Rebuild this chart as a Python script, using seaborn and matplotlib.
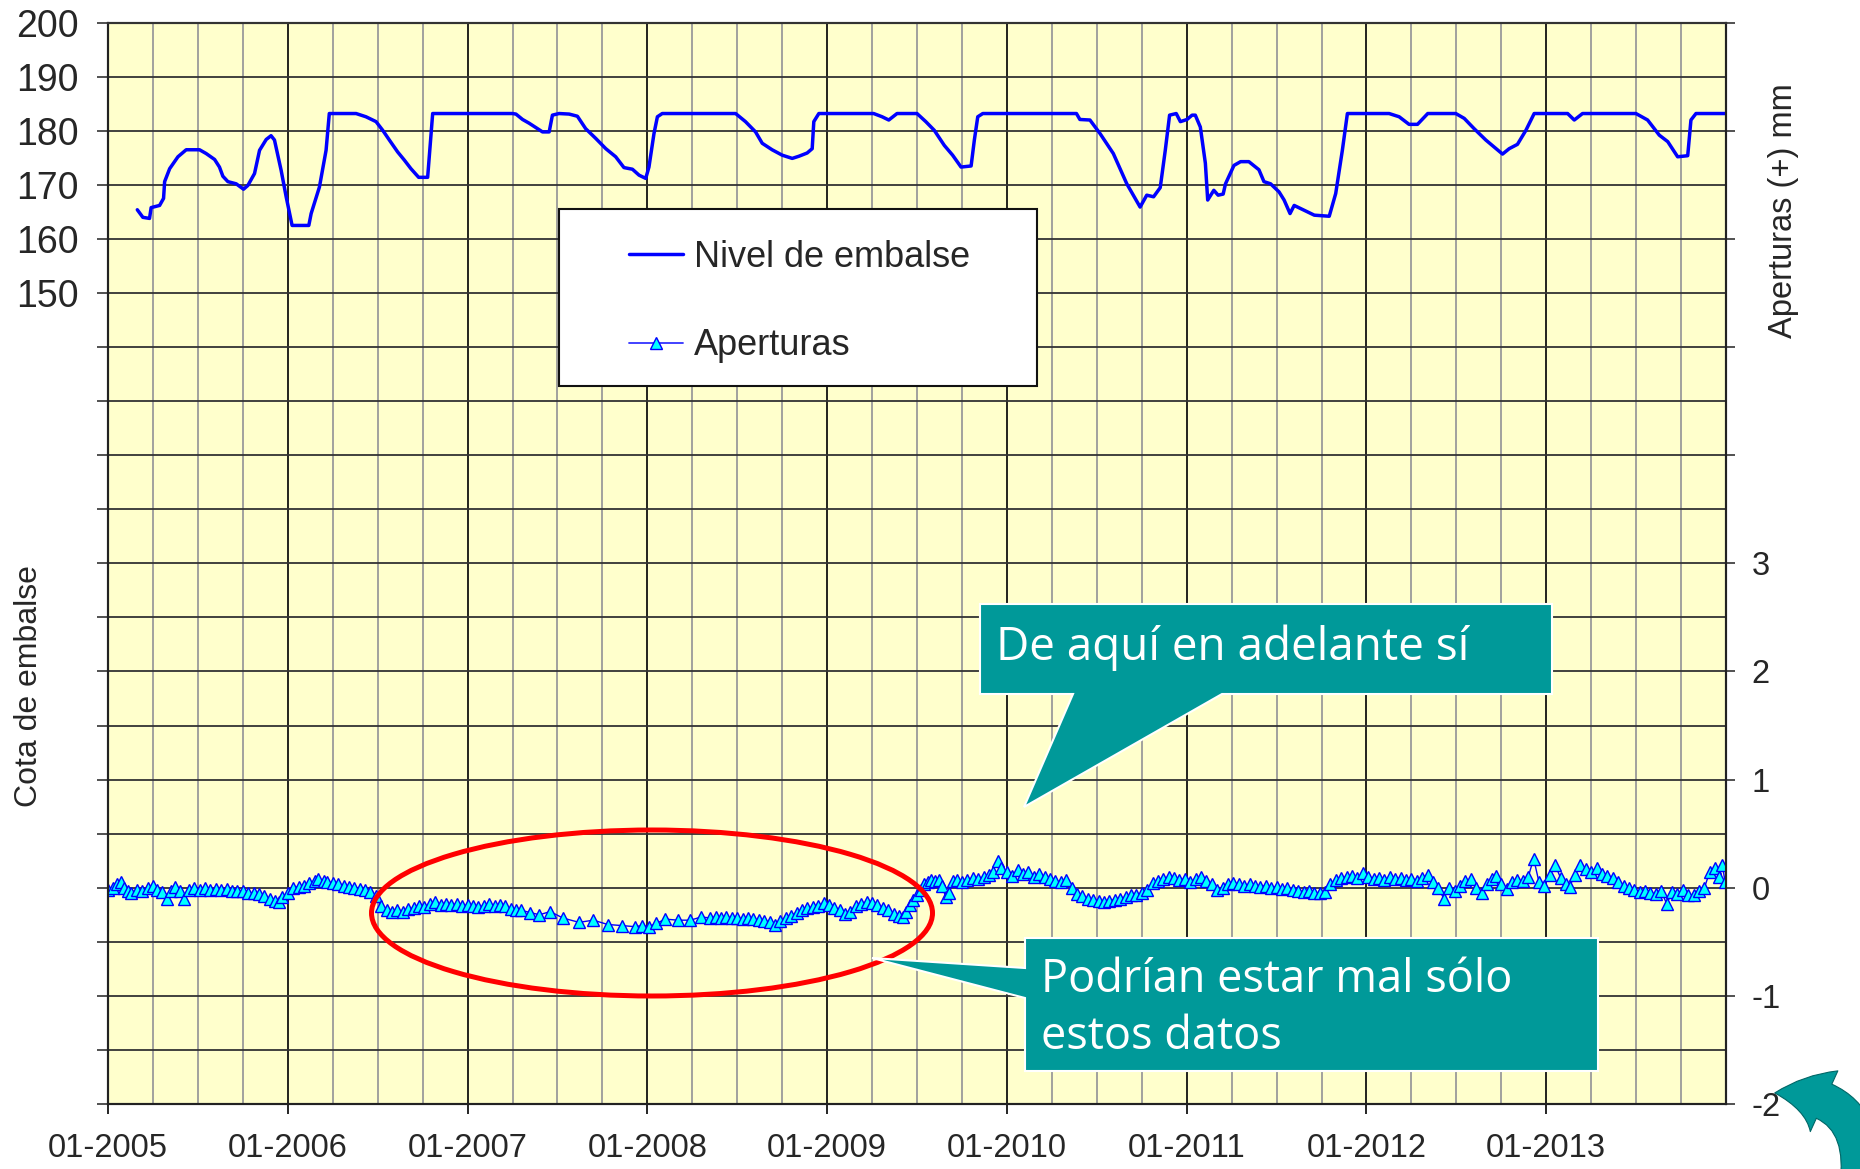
import matplotlib
matplotlib.use("Agg")
import matplotlib.pyplot as plt
import seaborn as sns
from matplotlib.patches import Rectangle, Ellipse, Polygon, FancyArrowPatch
from matplotlib.lines import Line2D
from matplotlib.ticker import FixedLocator, FixedFormatter

# ---------------- data ----------------
nivel_year = [2005.163, 2005.194, 2005.231, 2005.240, 2005.287, 2005.309, 2005.315, 2005.343, 2005.389,
              2005.435, 2005.509, 2005.546, 2005.593, 2005.620, 2005.639, 2005.667, 2005.713, 2005.754,
              2005.778, 2005.815, 2005.843, 2005.880, 2005.907, 2005.926, 2005.963, 2005.991, 2006.024,
              2006.117, 2006.130, 2006.176, 2006.213, 2006.231, 2006.380, 2006.435, 2006.491, 2006.528,
              2006.565, 2006.611, 2006.648, 2006.685, 2006.728, 2006.778, 2006.787, 2006.806,
              2007.250, 2007.269, 2007.306, 2007.343, 2007.380, 2007.417, 2007.454, 2007.472, 2007.509,
              2007.565, 2007.611, 2007.657, 2007.713, 2007.769, 2007.824, 2007.870, 2007.917, 2007.954,
              2007.991, 2008.009, 2008.037, 2008.056, 2008.083, 2008.491, 2008.546, 2008.602, 2008.639,
              2008.694, 2008.750, 2008.806, 2008.843, 2008.889, 2008.917, 2008.926, 2008.954, 2009.259,
              2009.306, 2009.343, 2009.389, 2009.500, 2009.549, 2009.596, 2009.652, 2009.698, 2009.745,
              2009.801, 2009.819, 2009.838, 2009.866, 2010.387, 2010.406, 2010.462, 2010.518, 2010.592,
              2010.667, 2010.741, 2010.778, 2010.816, 2010.853, 2010.881, 2010.905, 2010.942, 2010.965,
              2011.002, 2011.030, 2011.048, 2011.076, 2011.104, 2011.117, 2011.151, 2011.175, 2011.203,
              2011.216, 2011.263, 2011.300, 2011.346, 2011.402, 2011.430, 2011.467, 2011.514, 2011.542,
              2011.575, 2011.598, 2011.654, 2011.710, 2011.793, 2011.829, 2011.866, 2011.894, 2012.126,
              2012.182, 2012.237, 2012.284, 2012.341, 2012.497, 2012.544, 2012.599, 2012.664, 2012.757,
              2012.794, 2012.840, 2012.887, 2012.933, 2013.119, 2013.156, 2013.202, 2013.499, 2013.564,
              2013.629, 2013.676, 2013.731, 2013.787, 2013.805, 2013.833, 2013.996]
nivel_value = [165.4, 164.0, 163.8, 165.8, 166.2, 167.5, 170.6, 173.0, 175.2,
               176.5, 176.5, 175.8, 174.7, 173.3, 171.6, 170.6, 170.2, 169.2,
               169.9, 172.1, 176.4, 178.4, 179.1, 178.3, 172.7, 167.8, 162.5,
               162.5, 164.7, 169.6, 176.4, 183.2, 183.2, 182.6, 181.7, 180.1,
               178.3, 176.1, 174.6, 173.0, 171.4, 171.4, 175.2, 183.2,
               183.2, 183.1, 182.1, 181.4, 180.6, 179.8, 179.8, 182.9, 183.2,
               183.1, 182.7, 180.4, 178.6, 176.7, 175.2, 173.2, 172.9, 171.8,
               171.2, 173.3, 179.5, 182.6, 183.2, 183.2, 181.7, 179.8, 177.7,
               176.5, 175.5, 174.9, 175.3, 175.9, 176.7, 181.7, 183.2, 183.2,
               182.6, 182.0, 183.2, 183.2, 181.7, 180.1, 177.3, 175.5, 173.3,
               173.5, 178.3, 182.6, 183.2, 183.2, 182.1, 182.0, 179.5, 175.8,
               170.2, 165.9, 168.1, 167.8, 169.5, 176.4, 182.9, 183.2, 181.7,
               182.1, 182.9, 182.9, 180.7, 174.0, 167.2, 169.0, 168.1, 168.3,
               170.2, 173.6, 174.3, 174.3, 172.8, 170.6, 170.2, 168.7, 167.2,
               164.7, 166.2, 165.3, 164.4, 164.2, 168.4, 176.4, 183.2, 183.2,
               182.6, 181.2, 181.2, 183.2, 183.2, 182.3, 180.4, 178.3, 175.7,
               176.7, 177.5, 180.1, 183.2, 183.2, 182.0, 183.2, 183.2, 182.0,
               179.2, 178.0, 175.2, 175.4, 182.0, 183.2, 183.2]

apert_year = [2005.00, 2005.03, 2005.05, 2005.07, 2005.09, 2005.11, 2005.13, 2005.16, 2005.19, 2005.22,
              2005.25, 2005.27, 2005.30, 2005.33, 2005.35, 2005.37, 2005.40, 2005.42, 2005.45, 2005.48,
              2005.51, 2005.54, 2005.57, 2005.60, 2005.63, 2005.66, 2005.69, 2005.72, 2005.75, 2005.78,
              2005.81, 2005.84, 2005.87, 2005.90, 2005.93, 2005.95, 2005.97, 2006.00, 2006.03, 2006.06,
              2006.09, 2006.12, 2006.15, 2006.17, 2006.20, 2006.22, 2006.25, 2006.28, 2006.31, 2006.34,
              2006.37, 2006.40, 2006.43, 2006.46, 2006.49, 2006.52, 2006.55, 2006.58, 2006.61, 2006.64,
              2006.67, 2006.70, 2006.73, 2006.76, 2006.79, 2006.82, 2006.85, 2006.88, 2006.91, 2006.94,
              2006.97, 2007.00, 2007.03, 2007.06, 2007.09, 2007.12, 2007.15, 2007.18, 2007.21, 2007.24,
              2007.27, 2007.30, 2007.35, 2007.40, 2007.46, 2007.53, 2007.62, 2007.70, 2007.78, 2007.86,
              2007.93, 2007.97, 2008.01, 2008.05, 2008.10, 2008.17, 2008.24, 2008.30, 2008.35, 2008.38,
              2008.41, 2008.44, 2008.47, 2008.50, 2008.53, 2008.56, 2008.59, 2008.62, 2008.65, 2008.68,
              2008.71, 2008.74, 2008.77, 2008.80, 2008.83, 2008.86, 2008.89, 2008.92, 2008.95, 2008.98,
              2009.01, 2009.04, 2009.07, 2009.10, 2009.13, 2009.16, 2009.19, 2009.22, 2009.25, 2009.28,
              2009.31, 2009.34, 2009.37, 2009.40, 2009.42, 2009.44, 2009.46, 2009.48, 2009.50, 2009.52,
              2009.54, 2009.56, 2009.58, 2009.60, 2009.62, 2009.64, 2009.66, 2009.68, 2009.70, 2009.72,
              2009.75, 2009.78, 2009.81, 2009.84, 2009.87, 2009.90, 2009.92, 2009.95, 2009.97, 2010.00,
              2010.03, 2010.06, 2010.09, 2010.12, 2010.15, 2010.18, 2010.21, 2010.24, 2010.27, 2010.30,
              2010.33, 2010.36, 2010.39, 2010.42, 2010.45, 2010.48, 2010.51, 2010.54, 2010.57, 2010.60,
              2010.63, 2010.66, 2010.69, 2010.72, 2010.75, 2010.78, 2010.81, 2010.84, 2010.87, 2010.90,
              2010.93, 2010.96, 2010.99, 2011.02, 2011.05, 2011.08, 2011.11, 2011.14, 2011.17, 2011.20,
              2011.23, 2011.26, 2011.29, 2011.32, 2011.35, 2011.38, 2011.41, 2011.44, 2011.47, 2011.50,
              2011.53, 2011.56, 2011.59, 2011.62, 2011.65, 2011.68, 2011.71, 2011.74, 2011.77, 2011.80,
              2011.83, 2011.86, 2011.89, 2011.92, 2011.95, 2011.98, 2012.01, 2012.04, 2012.07, 2012.10,
              2012.13, 2012.16, 2012.19, 2012.22, 2012.25, 2012.28, 2012.31, 2012.34, 2012.37, 2012.40,
              2012.43, 2012.46, 2012.49, 2012.52, 2012.55, 2012.58, 2012.61, 2012.64, 2012.67, 2012.70,
              2012.72, 2012.75, 2012.78, 2012.81, 2012.84, 2012.87, 2012.90, 2012.93, 2012.96, 2012.99,
              2013.02, 2013.05, 2013.08, 2013.11, 2013.13, 2013.16, 2013.19, 2013.22, 2013.25, 2013.28,
              2013.31, 2013.34, 2013.37, 2013.40, 2013.43, 2013.46, 2013.49, 2013.52, 2013.55, 2013.58,
              2013.61, 2013.64, 2013.67, 2013.70, 2013.73, 2013.76, 2013.79, 2013.82, 2013.85, 2013.88,
              2013.91, 2013.94, 2013.96, 2013.98, 2013.995]
apert_value = [-0.02, 0.00, 0.03, 0.05, 0.00, -0.03, -0.05, -0.02, -0.03, 0.00,
               0.02, -0.02, -0.04, -0.10, -0.03, 0.01, -0.03, -0.10, -0.02, 0.00,
               -0.02, 0.00, -0.02, -0.01, -0.02, -0.01, -0.03, -0.03, -0.03, -0.05,
               -0.05, -0.06, -0.08, -0.10, -0.12, -0.13, -0.09, -0.05, 0.00, 0.01,
               0.02, 0.04, 0.06, 0.08, 0.06, 0.05, 0.04, 0.03, 0.02, 0.01,
               0.00, -0.01, -0.02, -0.04, -0.08, -0.17, -0.21, -0.22, -0.21, -0.22,
               -0.20, -0.19, -0.17, -0.18, -0.15, -0.13, -0.16, -0.15, -0.16, -0.15,
               -0.17, -0.16, -0.17, -0.18, -0.17, -0.15, -0.17, -0.16, -0.17, -0.20,
               -0.21, -0.21, -0.23, -0.25, -0.22, -0.28, -0.32, -0.30, -0.34, -0.35,
               -0.36, -0.35, -0.36, -0.33, -0.29, -0.30, -0.30, -0.27, -0.28, -0.27,
               -0.28, -0.27, -0.28, -0.28, -0.29, -0.28, -0.29, -0.30, -0.31, -0.32,
               -0.34, -0.31, -0.28, -0.26, -0.23, -0.21, -0.19, -0.18, -0.17, -0.14,
               -0.16, -0.19, -0.21, -0.24, -0.22, -0.17, -0.15, -0.13, -0.14, -0.16,
               -0.19, -0.21, -0.24, -0.26, -0.27, -0.22, -0.16, -0.11, -0.07, -0.02,
               0.03, 0.05, 0.07, 0.06, 0.07, 0.02, -0.09, -0.05, 0.06, 0.07,
               0.05, 0.07, 0.09, 0.08, 0.10, 0.12, 0.15, 0.25, 0.18, 0.15,
               0.11, 0.16, 0.13, 0.15, 0.10, 0.13, 0.10, 0.08, 0.06, 0.05,
               0.07, 0.00, -0.06, -0.08, -0.10, -0.11, -0.12, -0.13, -0.12, -0.11,
               -0.10, -0.09, -0.07, -0.07, -0.05, -0.02, 0.04, 0.06, 0.08, 0.10,
               0.09, 0.07, 0.08, 0.05, 0.08, 0.10, 0.06, 0.03, -0.02, 0.00,
               0.03, 0.04, 0.03, 0.02, 0.03, 0.02, 0.01, 0.02, 0.00, 0.01,
               -0.01, 0.00, -0.02, -0.03, -0.04, -0.03, -0.05, -0.05, -0.04, 0.03,
               0.07, 0.09, 0.10, 0.11, 0.09, 0.14, 0.10, 0.08, 0.09, 0.07,
               0.10, 0.08, 0.09, 0.07, 0.08, 0.06, 0.09, 0.12, 0.05, 0.00,
               -0.10, 0.00, -0.03, 0.02, 0.06, 0.08, 0.00, -0.05, 0.03, 0.08,
               0.11, 0.03, -0.01, 0.05, 0.07, 0.06, 0.10, 0.27, 0.05, 0.02,
               0.12, 0.21, 0.09, 0.03, 0.01, 0.12, 0.21, 0.17, 0.15, 0.18,
               0.13, 0.11, 0.09, 0.05, 0.02, 0.00, -0.02, -0.04, -0.03, -0.05,
               -0.06, -0.03, -0.15, -0.04, -0.06, -0.02, -0.07, -0.07, -0.03, 0.00,
               0.15, 0.18, 0.10, 0.21, 0.05]

year_ticks = [2005, 2006, 2007, 2008, 2009, 2010, 2011, 2012, 2013]
year_labels = ["01-2005", "01-2006", "01-2007", "01-2008", "01-2009",
               "01-2010", "01-2011", "01-2012", "01-2013"]
left_ticks = list(range(0, 201, 10))
left_labels = ["", "", "", "", "", "", "", "", "", "", "", "", "", "", "",
               "150", "160", "170", "180", "190", "200"]
right_ticks = [-2, -1, 0, 1, 2, 3, 4, 5, 6, 7, 8]
right_labels = ["-2", "-1", "0", "1", "2", "3", "", "", "", "", ""]
series_names = ["Nivel de embalse", "Aperturas"]

# ---------------- figure ----------------
W, H = 1860, 1169
sns.set_style("white")
plt.rcParams['font.family'] = ['Liberation Sans', 'DejaVu Sans']


def fx(x):
    return x / W


def fy(y):
    return 1 - y / H


fig = plt.figure(figsize=(W / 100, H / 100), dpi=100)
L, R, T, B = 108, 1726, 22.7, 1104
ax = fig.add_axes([fx(L), fy(B), (R - L) / W, (B - T) / H])
ax.set_facecolor("#FFFFCC")
ax2 = ax.twinx()

sns.lineplot(x=nivel_year, y=nivel_value, ax=ax, color="#0000FF", lw=2.5, legend=False)
sns.lineplot(x=apert_year, y=apert_value, ax=ax2, color="#0000FF", lw=1.0, marker="^",
             markersize=9, markerfacecolor="#00FFFF", markeredgecolor="#0000FF",
             markeredgewidth=1.0, legend=False)

ax.set_xlim(2005, 2014)
ax.set_ylim(0, 200)
ax2.set_ylim(-2, 8)

ax.xaxis.set_major_locator(FixedLocator(year_ticks))
ax.xaxis.set_major_formatter(FixedFormatter(year_labels))
ax.xaxis.set_minor_locator(FixedLocator([2005 + q * 0.25 for q in range(37)]))
ax.yaxis.set_major_locator(FixedLocator(left_ticks))
ax.yaxis.set_major_formatter(FixedFormatter(left_labels))
ax2.yaxis.set_major_locator(FixedLocator(right_ticks))
ax2.yaxis.set_major_formatter(FixedFormatter(right_labels))

ax.grid(which="minor", axis="x", color="#9A9A9A", lw=1.3)
ax.grid(which="major", axis="x", color="#111111", lw=1.3)
ax.grid(which="major", axis="y", color="#333333", lw=1.3)
ax.set_axisbelow(True)
ax2.grid(False)

ax.tick_params(axis="x", which="major", direction="out", length=7, width=1.2, color="black",
               labelsize=23.5, pad=14, bottom=True)
ax.tick_params(axis="x", which="minor", length=0)
ax.tick_params(axis="y", direction="out", length=8, width=1.2, color="#333333",
               labelsize=27, pad=13, left=True)
ax2.tick_params(axis="y", direction="out", length=6.5, width=1.2, color="#333333",
                labelsize=23.5, pad=12, right=True)

for a in (ax, ax2):
    for s in a.spines.values():
        s.set_color("#222222")
        s.set_linewidth(1.5)
ax2.spines["top"].set_color("#333333")

ax.set_xlabel("")
ax.set_ylabel("Cota de embalse", fontsize=23, labelpad=0)
ax.yaxis.set_label_coords((44 - L) / (R - L), (B - 686) / (B - T))
ax2.set_ylabel("Aperturas (+) mm", fontsize=23.5, labelpad=0)
ax2.yaxis.set_label_coords((1768 - L) / (R - L), (B - 211) / (B - T))

# legend box
frame = Rectangle((fx(559), fy(386)), (1037 - 559) / W, (386 - 209) / H, transform=fig.transFigure,
                  facecolor="white", edgecolor="#111111", lw=1.5, zorder=4, clip_on=False)
ax2.add_patch(frame)
handles = [Line2D([], [], color="#0000FF", lw=2.5),
           Line2D([], [], color="#3333FF", lw=1.3, marker="^", markersize=8,
                  markerfacecolor="#00FFFF", markeredgecolor="#0000FF")]
leg = ax2.legend(handles, series_names, loc="upper left", bbox_to_anchor=(fx(629), fy(240)),
                 bbox_transform=fig.transFigure, frameon=False, fontsize=26, handlelength=1.5,
                 handletextpad=0.3, labelspacing=1.48, borderpad=0, borderaxespad=0)
leg.set_zorder(6)

# red ellipse annotation
ell = Ellipse((fx(652), fy(913)), 561 / W, 166 / H, transform=fig.transFigure, fill=False,
              edgecolor="#FF0000", lw=3.6, zorder=7, clip_on=False)
ax2.add_patch(ell)

teal = "#009999"
callout_font = ["Open Sans", "DejaVu Sans"]
# callout 1
c1 = [(980, 604), (1552, 604), (1552, 694), (1222, 694), (1024, 807), (1073, 694), (980, 694)]
ax2.add_patch(Polygon([(fx(x), fy(y)) for x, y in c1], closed=True, transform=fig.transFigure,
                      facecolor=teal, edgecolor="white", lw=1.5, zorder=8, clip_on=False))
fig.text(fx(996), fy(648), "De aquí en adelante sí", color="white", fontsize=33,
         family=callout_font, ha="left", va="center", zorder=9)

# callout 2
c2 = [(1025, 938), (1598, 938), (1598, 1071), (1025, 1071), (1025, 998), (872, 958), (1025, 968)]
ax2.add_patch(Polygon([(fx(x), fy(y)) for x, y in c2], closed=True, transform=fig.transFigure,
                      facecolor=teal, edgecolor="white", lw=1.5, zorder=8, clip_on=False))
fig.text(fx(1041), fy(980), "Podrían estar mal sólo", color="white", fontsize=32.5,
         family=callout_font, ha="left", va="center", zorder=9)
fig.text(fx(1041), fy(1037), "estos datos", color="white", fontsize=32.5,
         family=callout_font, ha="left", va="center", zorder=9)

# curved navigation arrow (bottom-right)
arr = FancyArrowPatch((fx(1858), fy(1190)), (fx(1772), fy(1093)), transform=fig.transFigure,
                      connectionstyle="arc3,rad=0.6",
                      arrowstyle="simple,head_length=1.2,head_width=1.6,tail_width=0.9",
                      mutation_scale=30, facecolor=teal, edgecolor="#006666", lw=0.8, zorder=10)
fig.patches.append(arr)

fig.savefig("out.png", dpi=100)
